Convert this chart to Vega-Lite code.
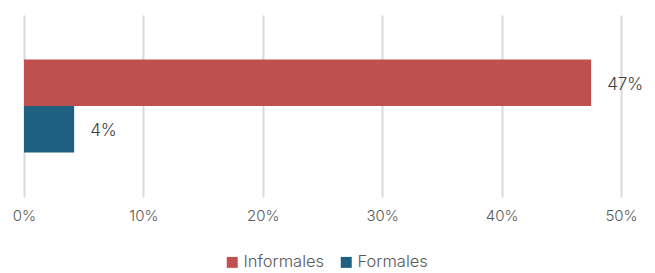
{
  "$schema": "https://vega.github.io/schema/vega-lite/v6.json",
  "autosize": {"type": "none"},
  "padding": {"left": 24, "top": 15, "right": 34, "bottom": 76},
  "width": 597,
  "height": 182,
  "background": "white",
  "config": {
    "view": {"stroke": null},
    "font": "Inter"
  },
  "data": {
    "values": [
      {"serie": "Informales", "valor": 0.475, "etiqueta": "47%"},
      {"serie": "Formales", "valor": 0.042, "etiqueta": "4%"}
    ]
  },
  "encoding": {
    "y": {
      "field": "serie",
      "type": "nominal",
      "sort": ["Informales", "Formales"],
      "scale": {"paddingInner": 0, "paddingOuter": 0.96},
      "axis": null
    },
    "x": {
      "field": "valor",
      "type": "quantitative",
      "scale": {"domain": [0, 0.5], "nice": false},
      "axis": {
        "format": "%",
        "values": [0, 0.1, 0.2, 0.3, 0.4, 0.5],
        "labelOverlap": false,
        "labelFlush": false,
        "labelAlign": "center",
        "domain": false,
        "ticks": false,
        "grid": true,
        "gridColor": "#d9d9d9",
        "gridWidth": 2,
        "labelColor": "#595959",
        "labelFontSize": 15,
        "labelFontWeight": 300,
        "labelPadding": 11,
        "title": null
      }
    }
  },
  "layer": [
    {
      "mark": {"type": "bar"},
      "encoding": {
        "color": {
          "field": "serie",
          "type": "nominal",
          "sort": ["Informales", "Formales"],
          "scale": {"domain": ["Informales", "Formales"], "range": ["#C0504D", "#1F5F7F"]},
          "legend": {
            "orient": "none",
            "legendX": 200,
            "legendY": 239,
            "direction": "horizontal",
            "title": null,
            "symbolType": "square",
            "symbolSize": 120,
            "symbolStrokeWidth": 0,
            "labelFontSize": 16.5,
            "labelFontWeight": 300,
            "labelColor": "#595959",
            "columnPadding": 13,
            "labelOffset": 3
          }
        }
      }
    },
    {
      "mark": {"type": "text", "align": "left", "dx": 16, "dy": 2, "fontSize": 17, "fontWeight": 300, "color": "#404040"},
      "encoding": {
        "text": {"field": "etiqueta"}
      }
    }
  ]
}
